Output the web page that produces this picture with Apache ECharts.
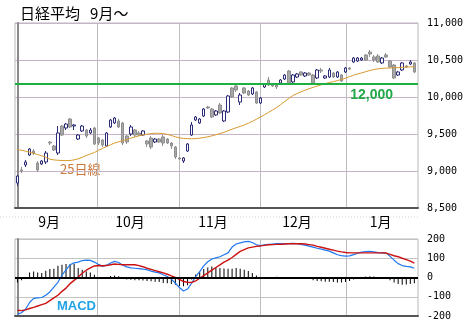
<!DOCTYPE html>
<html><head><meta charset="utf-8">
<script src="https://cdn.jsdelivr.net/npm/echarts/dist/echarts.min.js"></script>
<style>html,body{margin:0;padding:0;background:#fff}#c{width:476px;height:335px}</style>
</head><body><div id="c"></div>
<script>
const titleText = '日経平均   9月～';
const monthLabels = ['9月', '10月', '11月', '12月', '1月'];
const monthLabelPos = [7.8, 27.8, 48.3, 69, 89.7];
const monthLinePos = [19.65, 40, 60, 81.1];
const maLabel = '25日線';
const macdLabel = 'MACD';
const refLineValue = 10175;
const refLineLabel = '12,000';

const opens = [8838,9014,9081,9216,9270,9108,9095,9122,9390,9338,
  9243,9608,9581,9703,9608,9432,9541,9554,9514,9581,
  9446,9419,9338,9595,9649,9676,9649,9473,9500,9554,
  9514,9486,9405,9446,9392,9432,9460,9432,9378,9324,
  9176,9135,9270,9486,9689,9649,9743,9865,9838,9757,
  9892,9676,9797,10122,10149,9932,10122,10081,10041,10068,
  9919,10135,10230,10176,10162,10189,10243,10351,10203,10270,
  10338,10284,10324,10297,10257,10365,10257,10270,10324,10270,
  10297,10338,10392,10473,10486,10500,10568,10608,10541,10554,
  10460,10568,10486,10432,10297,10365,10419,10446,10460];
const closes = [8932,9000,9122,9297,9243,9014,9135,9243,9378,9284,
  9514,9486,9635,9595,9622,9486,9608,9473,9554,9365,
  9378,9351,9514,9689,9716,9595,9378,9392,9595,9486,
  9486,9541,9365,9324,9432,9392,9378,9378,9338,9189,
  9162,9176,9365,9622,9730,9703,9838,9851,9730,9811,
  9784,9811,10014,10000,10095,10027,10054,10027,10122,9919,
  9986,10176,10162,10149,10135,10230,10297,10189,10297,10311,
  10297,10324,10297,10189,10365,10351,10284,10365,10270,10338,
  10216,10392,10378,10527,10527,10527,10500,10581,10500,10473,
  10527,10541,10405,10257,10338,10460,10405,10473,10338];
const lows = [8797,8973,9054,9203,9216,8987,9081,9095,9351,9270,
  9216,9473,9554,9581,9554,9419,9527,9446,9500,9351,
  9351,9324,9324,9581,9635,9581,9351,9365,9473,9460,
  9473,9473,9324,9297,9378,9378,9338,9365,9297,9162,
  9149,9108,9257,9473,9676,9635,9730,9838,9716,9743,
  9770,9662,9784,9986,10068,9892,10041,10014,10027,9905,
  9905,10122,10149,10135,10108,10176,10230,10176,10189,10257,
  10284,10270,10284,10176,10243,10324,10243,10257,10257,10257,
  10203,10324,10365,10460,10473,10486,10486,10541,10473,10460,
  10446,10527,10392,10243,10284,10351,10392,10432,10324];
const highs = [8946,9054,9149,9311,9297,9135,9149,9270,9405,9351,
  9608,9622,9649,9716,9635,9500,9622,9568,9581,9595,
  9460,9432,9527,9703,9730,9703,9662,9486,9622,9568,
  9541,9554,9419,9473,9446,9446,9486,9446,9392,9338,
  9189,9189,9378,9662,9743,9716,9851,9878,9851,9824,
  9919,9824,10027,10135,10176,10054,10135,10095,10135,10081,
  10000,10189,10270,10189,10176,10243,10311,10365,10311,10324,
  10351,10338,10338,10311,10378,10392,10297,10392,10338,10351,
  10311,10405,10405,10541,10541,10541,10581,10635,10568,10581,
  10541,10595,10500,10446,10351,10473,10432,10500,10473];
const ma25 = [9290,9280,9268,9255,9238,9222,9205,9185,9160,9150,
  9145,9142,9140,9142,9150,9165,9185,9210,9230,9250,
  9280,9305,9330,9355,9378,9395,9410,9425,9445,9460,
  9475,9488,9498,9505,9510,9510,9506,9495,9480,9462,
  9448,9440,9437,9436,9438,9444,9452,9462,9475,9490,
  9505,9522,9545,9565,9585,9603,9622,9645,9670,9700,
  9730,9760,9792,9825,9858,9898,9940,9980,10020,10045,
  10070,10092,10112,10130,10148,10165,10182,10195,10208,10222,
  10236,10255,10275,10295,10311,10326,10342,10358,10372,10380,
  10386,10390,10392,10395,10398,10401,10405,10407,10409];
const macd = [-190,-183,-165,-130,-108,-106,-104,-92,-75,-50,
  -25,12,40,66,76,80,88,90,89,80,
  68,58,64,75,84,78,64,55,50,48,
  46,44,40,33,28,24,14,5,-8,-30,
  -52,-70,-60,-30,5,31,60,82,96,102,
  108,118,128,158,174,180,185,188,182,170,
  166,170,172,174,176,176,175,176,177,176,
  172,168,163,158,152,147,142,137,128,118,
  114,111,112,119,126,132,135,136,133,129,
  128,128,110,90,72,62,58,55,48];
const signal = [-170,-172,-168,-161,-155,-148,-141,-134,-120,-106,
  -92,-72,-55,-32,-15,2,22,38,50,60,
  62,61,62,66,70,68,66,66,66,66,
  62,56,48,42,36,30,24,17,8,0,
  -10,-21,-25,-26,-18,-4,10,24,38,52,
  66,80,90,104,120,136,145,154,158,162,
  164,167,170,171,172,173,174,175,175,175,
  175,174,171,168,162,157,152,147,142,137,
  133,130,128,128,128,128,128,128,128,128,
  128,127,120,113,108,100,93,85,75];
const hist = [-26,-14,-4,26,31,26,23,35,44,45,
  61,66,70,70,70,49,40,31,26,14,
  2,-4,-2,8,10,6,-8,-10,-12,-14,
  -14,-16,-18,-20,-22,-24,-28,-30,-34,-38,
  -44,-46,-40,-10,16,31,44,52,57,55,
  50,47,45,45,49,46,40,34,24,10,
  2,3,2,3,4,3,1,1,2,1,
  -3,-6,-8,-14,-18,-20,-22,-22,-24,-26,
  -26,-24,-18,-10,-2,3,5,6,5,2,
  0,1,-14,-26,-34,-38,-36,-34,-30];

const candleData = opens.map((o, i) => [i, o, closes[i], lows[i], highs[i]]);
const idx = a => a.map((v, i) => [i, v]);

const chart = echarts.init(document.getElementById('c'), null, {renderer: 'canvas'});
const numLabel = {align: 'left', margin: 9, fontFamily: 'DejaVu Sans Mono', fontSize: 10, color: '#000',
  formatter: v => v.toLocaleString('en-US')};
const vLine = {show: true, lineStyle: {color: '#bdbdbd', width: 1}};
chart.setOption({
  animation: false,
  backgroundColor: '#fff',
  title: {text: titleText, left: 15, top: 1,
    textStyle: {fontFamily: 'Noto Sans CJK JP', fontSize: 15, fontWeight: 'normal', color: '#000'}},
  grid: [
    {left: 15, right: 58, top: 23, height: 185, show: true, borderColor: '#b8b8b8', borderWidth: 1},
    {left: 15, right: 58, top: 239, height: 77, show: true, borderColor: '#b8b8b8', borderWidth: 1}
  ],
  xAxis: [
    {gridIndex: 0, type: 'value', min: -0.6, max: 98.9,
      axisLine: {onZero: false, lineStyle: {color: '#555', width: 2}},
      axisTick: {show: false, customValues: monthLinePos},
      splitLine: vLine,
      axisLabel: {customValues: monthLabelPos, formatter: v => monthLabels[monthLabelPos.indexOf(v)],
        fontFamily: 'Noto Sans CJK JP', fontSize: 14, color: '#000', margin: 7}},
    {gridIndex: 1, type: 'value', min: -0.6, max: 98.9,
      axisLine: {onZero: false, lineStyle: {color: '#555', width: 2}},
      axisTick: {show: false, customValues: monthLinePos},
      splitLine: vLine,
      axisLabel: {show: false}}
  ],
  yAxis: [
    {gridIndex: 0, type: 'value', position: 'right', min: 8500, max: 11000, interval: 500,
      axisLine: {show: true, lineStyle: {color: '#8a8a8a', width: 2}},
      axisTick: {show: false},
      splitLine: {lineStyle: {color: '#c9b3c9', width: 1}},
      axisLabel: numLabel},
    {gridIndex: 1, type: 'value', position: 'right', min: -200, max: 200, interval: 100,
      axisLine: {show: true, lineStyle: {color: '#8a8a8a', width: 2}},
      axisTick: {show: false},
      splitLine: {lineStyle: {color: '#c4c4c4', width: 1}},
      axisLabel: numLabel}
  ],
  graphic: [
    {type: 'line', shape: {x1: 0, y1: 217, x2: 420, y2: 217}, style: {stroke: '#d0d0d0', lineDash: [1, 2], lineWidth: 1}, z: -1},
    {type: 'text', left: 60, top: 163, style: {text: maLabel, fill: '#c8783a', font: '13px "Noto Sans CJK JP"'}},
    {type: 'text', left: 57, top: 300, style: {text: macdLabel, fill: '#22a2e6', font: 'bold 13px "Liberation Sans"'}}
  ],
  series: [
    {type: 'candlestick', xAxisIndex: 0, yAxisIndex: 0, data: candleData, barWidth: 3, z: 3,
      itemStyle: {color: '#ffffff', color0: '#a8a8a8', borderColor: '#2c2c78', borderColor0: '#8e8e8e', borderWidth: 1},
      markLine: {silent: true, symbol: 'none', data: [{yAxis: refLineValue}],
        lineStyle: {color: '#1fae40', width: 2, type: 'solid'},
        label: {formatter: refLineLabel, position: 'insideEndBottom', distance: [25, 4], color: '#22a848',
          fontFamily: 'Liberation Sans', fontWeight: 'bold', fontSize: 14}}},
    {type: 'line', xAxisIndex: 0, yAxisIndex: 0, data: idx(ma25), showSymbol: false, z: 4,
      lineStyle: {color: '#d89a2c', width: 1}},
    {type: 'bar', xAxisIndex: 1, yAxisIndex: 1, data: idx(hist), barWidth: 1, itemStyle: {color: '#000'},
      markLine: {silent: true, symbol: 'none', data: [{yAxis: 0}], lineStyle: {color: '#000', width: 2, type: 'solid'}, label: {show: false}}},
    {type: 'line', xAxisIndex: 1, yAxisIndex: 1, data: idx(macd), showSymbol: false,
      lineStyle: {color: '#1f78f0', width: 1.2}},
    {type: 'line', xAxisIndex: 1, yAxisIndex: 1, data: idx(signal), showSymbol: false,
      lineStyle: {color: '#cc1111', width: 1.4}}
  ]
});
</script></body></html>
